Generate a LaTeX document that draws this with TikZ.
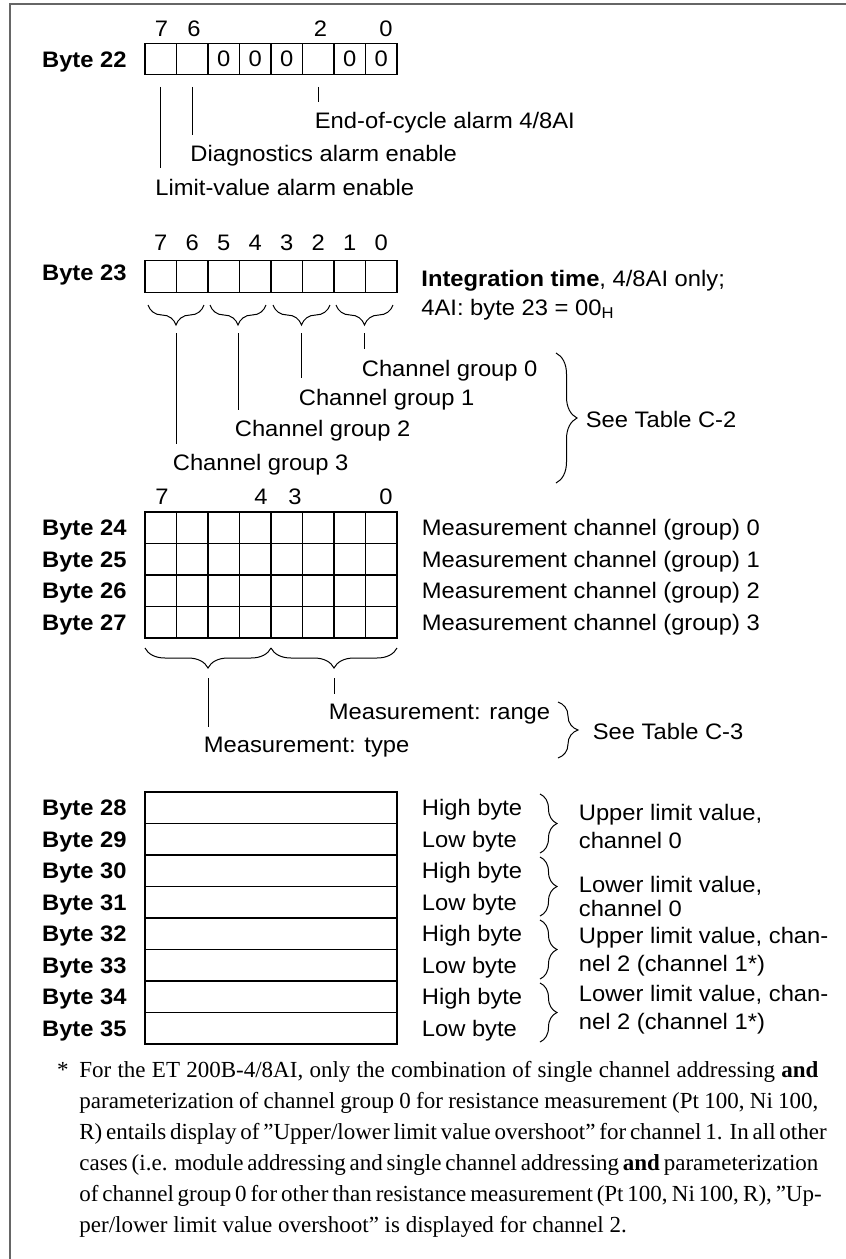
\documentclass[tikz,border=0pt]{standalone}
\usepackage{fontspec}
\setmainfont{Liberation Sans}[FakeStretch=1.06]
\newfontfamily\notefont{Liberation Serif}
\usetikzlibrary{positioning, decorations.pathreplacing}

\newcommand\figfont{\fontsize{11.2}{14}\selectfont}
\newcommand\noteline[1]{\hbox to 369.5pt{#1}}

\begin{document}
\begin{tikzpicture}[
    x=0.5pt, y=-0.5pt, % one unit = one pixel, y running down the page
    font=\figfont,
    cell/.style={draw, line width=0.6pt, minimum width=15.75pt, minimum height=15.75pt, inner sep=0pt, outer sep=0pt},
    wide/.style={cell, minimum width=126pt},
    txt/.style={inner sep=0pt, anchor=base west},
    bytelbl/.style={inner sep=0pt, anchor=base east, font=\figfont\bfseries},
    bitnum/.style={inner sep=0pt, anchor=base},
    leader/.style={line width=0.5pt, shorten <=5pt, shorten >=5pt},
    curly/.style={decorate, decoration={brace, amplitude=#1}, line width=0.5pt},
    curly/.default=10pt,
    frame/.style={draw=black!60, line width=1pt}
]

    \useasboundingbox (0,0) rectangle (846,1259);
    \draw[frame] (10,1259) -- (10,4) -- (846,4);

    % Byte 22
    \foreach \b in {0,...,7}
        \node[cell] (a\b) at ({160.75+31.5*(7-\b)}, 59) {};
    \foreach \b in {5,4,3,1,0}
        \node (z\b) at (a\b) {0};
    \foreach \b/\x in {7/161.5, 6/194, 2/320.5, 0/386}
        \node[bitnum] (an\b) at (\x,36) {\b};
    \node[bytelbl] (byte22) at (127,67) {Byte 22};

    \node[txt] (eoc) at (314.5,128.5) {End-of-cycle alarm 4/8AI};
    \node[txt] (diag) at (190,161.5) {Diagnostics alarm enable};
    \node[txt] (limit) at (155,195) {Limit-value alarm enable};
    \draw[leader, shorten <=6pt] (a7.south) -- (limit.north -| a7.south);
    \draw[leader, shorten <=6pt] (a6.south) -- (diag.north -| a6.south);
    \draw[leader, shorten <=6pt] (a2.south) -- (eoc.north -| a2.south);

    % Byte 23
    \foreach \b in {0,...,7} {
        \node[cell] (b\b) at ({160.75+31.5*(7-\b)}, 276.5) {};
        \node[bitnum] (bn\b) at ([yshift=5pt]b\b.north) {\b};
    }
    \node[bytelbl] (byte23) at (127,280.5) {Byte 23};
    \node[txt, align=left] (integ) at (421,315.7)
        {\textbf{Integration time}, 4/8AI only;\\[0.8pt]4AI: byte 23 = 00\textsubscript{H}};

    \foreach \p/\l/\r in {3/148/204, 2/210/266, 1/273/330, 0/336/393} {
        \draw[curly, decoration={mirror}] (\l,305) -- (\r,305);
        \coordinate (tip\p) at ({(\l+\r)/2}, 325);
    }
    \node[txt] (g0) at (361.5,376) {Channel group 0};
    \node[txt] (g1) at (298.5,405) {Channel group 1};
    \node[txt] (g2) at (234.5,436.7) {Channel group 2};
    \node[txt] (g3) at (172.5,470.7) {Channel group 3};
    \foreach \p in {0,...,3}
        \draw[leader, shorten <=4pt] (tip\p) -- (g\p.north -| tip\p);

    \draw[curly=10.5pt] (556,353) -- (556,483);
    \node[txt] (tab2) at (585.5,427.3) {See Table C-2};

    % Bytes 24 to 27
    \foreach \b/\x in {7/162, 4/261, 3/295, 0/386}
        \node[bitnum] (mn\b) at (\x,504) {\b};
    \foreach \r [count=\n from 24] in {0,...,3} {
        \foreach \b in {0,...,7}
            \node[cell] (m\r-\b) at ({160.75+31.5*(7-\b)}, {512+31.5*(\r+0.5)}) {};
        \node[bytelbl] (byte\n) at (127, {520+31.5*(\r+0.5)}) {Byte \n};
        \node[txt] (chan\r) at (421.5, {520+31.5*(\r+0.5)}) {Measurement channel (group) \r};
    }

    \draw[curly, decoration={mirror}] (145,648) -- (271,648);
    \draw[curly, decoration={mirror}] (271,648) -- (397,648);
    \coordinate (ttype) at (208,668);
    \coordinate (trange) at (334,668);
    \node[txt] (mrange) at (328.5,719.3) {Measurement: range};
    \node[txt] (mtype) at (203.5,752.3) {Measurement: type};
    \draw[leader] (trange) -- (mrange.north -| trange);
    \draw[leader] (ttype) -- (mtype.north -| ttype);

    \draw[curly] (558,702) -- (558,758);
    \node[txt] (tab3) at (592.5,739.3) {See Table C-3};

    % Bytes 28 to 35
    \foreach \r/\hl [count=\n from 28] in {0/High,1/Low,2/High,3/Low,4/High,5/Low,6/High,7/Low} {
        \node[wide] (w\r) at (271, {792+31.5*(\r+0.5)}) {};
        \node[bytelbl] (byte\n) at (127, {800+31.5*(\r+0.5)}) {Byte \n};
        \node[txt] (hl\r) at (421.5, {800+31.5*(\r+0.5)}) {\hl\ byte};
    }
    \foreach \k in {0,...,3}
        \draw[curly=8.5pt] (540,{794+63*\k}) -- (540,{853+63*\k});

    \node[txt, align=left] (upper0) at (578.5,848) {Upper limit value,\\channel 0};
    \node[txt, align=left] (lower0) at (578.5,916) {Lower limit value,\\[-2pt]channel 0};
    \node[txt, align=left] (upper2) at (578.5,971.3) {Upper limit value, chan-\\nel 2 (channel 1*)};
    \node[txt, align=left] (lower2) at (578.5,1029) {Lower limit value, chan-\\nel 2 (channel 1*)};

    % Footnote
    \node[inner sep=0pt, anchor=base] (star) at (63,1077) {\notefont\fontsize{11.5}{15.5}\selectfont *};
    \node[inner sep=0pt, anchor=base west] (note) at (79,1077) {\notefont\fontsize{11.5}{15.5}\selectfont
        \vtop{\hsize=369.5pt \baselineskip=15.5pt
        \noteline{For the ET 200B-4/8AI, only the combination of single channel addressing \textbf{and}}
        \noteline{parameterization of channel group 0 for resistance measurement (Pt 100, Ni 100,}
        \noteline{R) entails display of ”Upper/lower limit value overshoot” for channel 1. In all other}
        \noteline{cases (i.e. module addressing and single channel addressing \textbf{and} parameterization}
        \noteline{of channel group 0 for other than resistance measurement (Pt 100, Ni 100, R), ”Up-}
        \noteline{per/lower limit value overshoot” is displayed for channel 2.\hfil}}};

\end{tikzpicture}
\end{document}
